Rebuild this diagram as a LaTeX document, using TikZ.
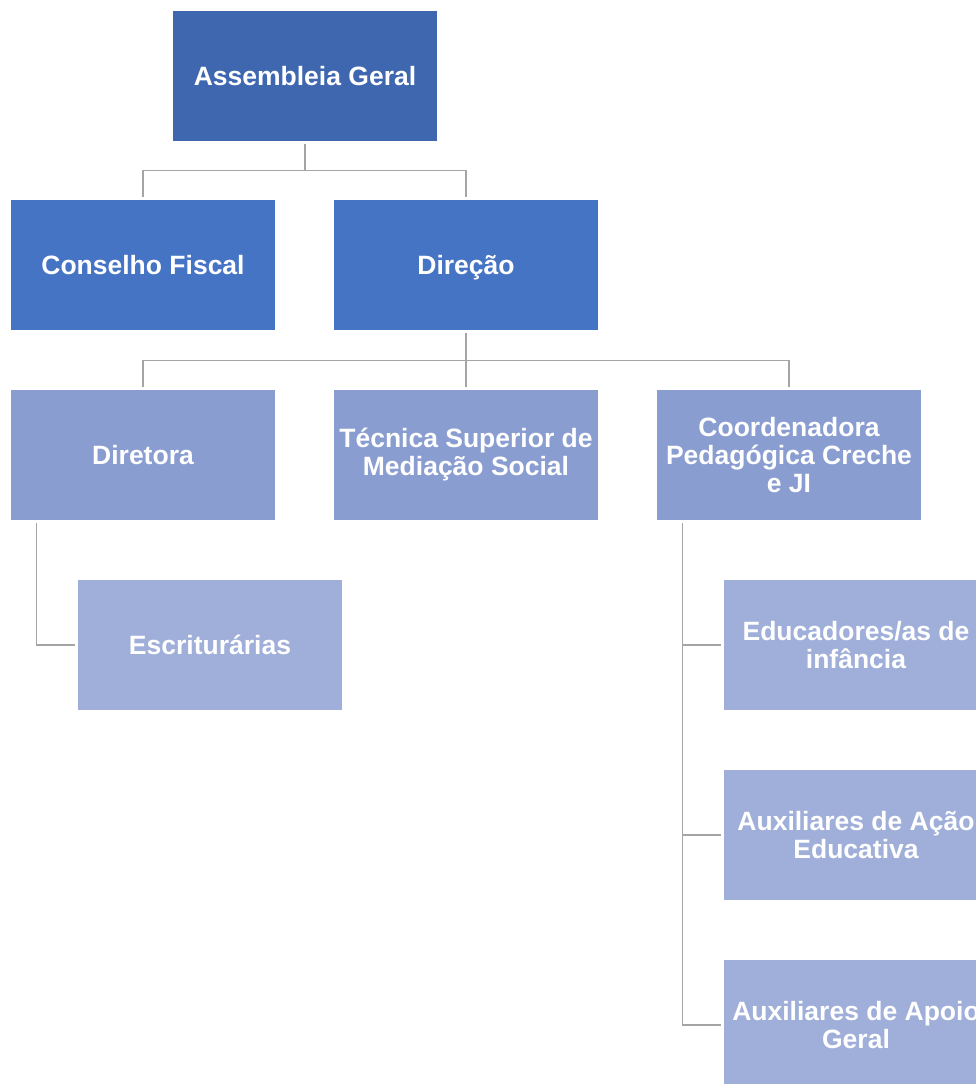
\documentclass[tikz,border=0pt]{standalone}
\usepackage{fontspec}
\setmainfont{Liberation Sans}
\usetikzlibrary{calc}
\definecolor{lvlone}{HTML}{3F67B0}
\definecolor{lvltwo}{HTML}{4674C4}
\definecolor{lvlthree}{HTML}{8A9DD1}
\definecolor{lvlfour}{HTML}{9FAFD9}
\definecolor{linkgray}{HTML}{A5A5A5}
\begin{document}
\begin{tikzpicture}[x=1pt,y=-1pt,
  orgbox/.style={rectangle, minimum width=264pt, minimum height=130pt, inner sep=0pt,
    text=white, font=\fontsize{26.5}{28}\selectfont\bfseries, align=center},
  link/.style={draw=linkgray, line width=1.3pt}]
\clip (0,0) rectangle (976,1084);
\fill[white] (0,0) rectangle (976,1084);

% top level
\node[orgbox, fill=lvlone] (ag) at (305,76) {Assembleia Geral};
% second level
\node[orgbox, fill=lvltwo] (cf) at (143,265) {Conselho Fiscal};
\node[orgbox, fill=lvltwo, text depth=0pt] (dir) at (466,265) {Direção};
% third level
\node[orgbox, fill=lvlthree] (dra) at (143,455) {Diretora};
\node[orgbox, fill=lvlthree] (tec) at (466,455) {Técnica Superior de\\Mediação Social};
\node[orgbox, fill=lvlthree] (coo) at (789,455) {Coordenadora\\Pedagógica Creche\\e JI};
% fourth level
\node[orgbox, fill=lvlfour] (esc) at (210,645) {Escriturárias};
\node[orgbox, fill=lvlfour] (edu) at (856,645) {Educadores/as de\\infância};
\node[orgbox, fill=lvlfour] (aae) at (856,835) {Auxiliares de Ação\\Educativa};
\node[orgbox, fill=lvlfour] (aag) at (856,1025) {Auxiliares de Apoio\\Geral};

% connectors
\draw[link] ([yshift=-3pt]ag.south) -- ([yshift=-29pt]ag.south) -| ([yshift=3pt]cf.north);
\draw[link] ([yshift=-29pt]ag.south) -| ([yshift=3pt]dir.north);

\draw[link] ([yshift=-3pt]dir.south) -- ([yshift=-30pt]dir.south) -| ([yshift=3pt]dra.north);
\draw[link] ([yshift=-30pt]dir.south) -- ([yshift=3pt]tec.north);
\draw[link] ([yshift=-30pt]dir.south) -| ([yshift=3pt]coo.north);

\draw[link] ([xshift=26pt,yshift=-3pt]dra.south west) |- ([xshift=-3pt]esc.west);

\coordinate (trunk) at ([xshift=26pt,yshift=-3pt]coo.south west);
\draw[link] (trunk) |- ([xshift=-3pt]aag.west);
\draw[link] (trunk |- edu.west) -- ([xshift=-3pt]edu.west);
\draw[link] (trunk |- aae.west) -- ([xshift=-3pt]aae.west);
\end{tikzpicture}
\end{document}
